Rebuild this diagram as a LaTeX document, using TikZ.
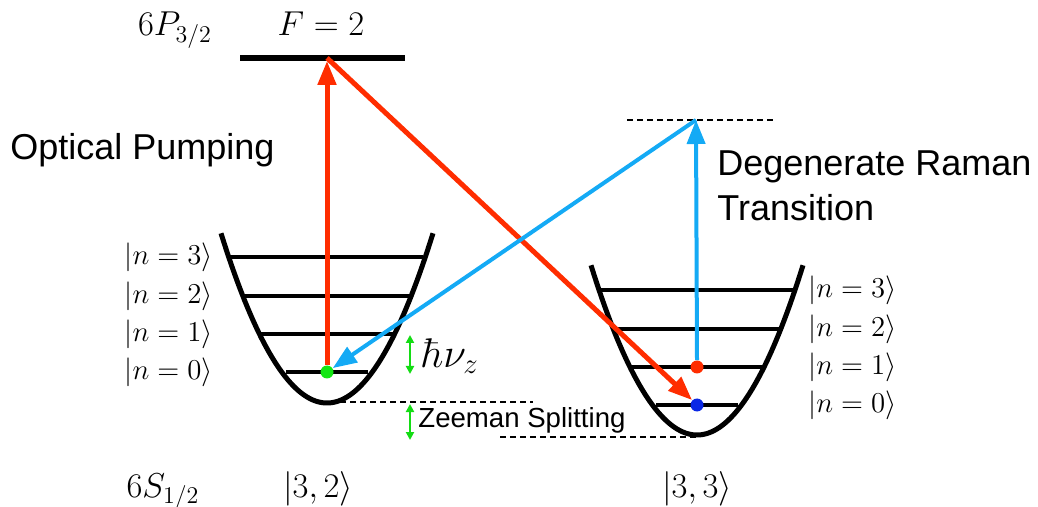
\documentclass[tikz,border=0pt]{standalone}
\usepackage{fontspec}
\newfontfamily\sansf{Liberation Sans}
\usetikzlibrary{arrows.meta}
\definecolor{laserred}{RGB}{255,45,0}
\definecolor{laserblue}{RGB}{20,170,245}
\definecolor{dotgreen}{RGB}{20,230,20}
\definecolor{dotblue}{RGB}{10,40,230}
\definecolor{arrgreen}{RGB}{20,220,20}
\begin{document}
\begin{tikzpicture}[x=0.5pt,y=-0.5pt,
  level/.style={line width=2pt},
  well/.style={line width=2.5pt},
  redbeam/.style={laserred,line width=2.5pt,-{Triangle[length=12pt,width=9pt]}},
  bluebeam/.style={laserblue,line width=2pt,-{Triangle[length=12pt,width=9pt]}},
  dot/.style={circle,inner sep=0pt,minimum size=6.5pt},
  gap/.style={arrgreen,line width=1pt,{Triangle[length=4pt,width=4pt]}-{Triangle[length=4pt,width=4pt]}},
  virt/.style={line width=1pt,dash pattern=on 3pt off 2pt},
  mathlab/.style={font=\fontsize{13.5}{16}\selectfont,inner sep=0pt},
  biglab/.style={font=\fontsize{17}{20}\selectfont,inner sep=0pt},
  hnulab/.style={font=\fontsize{20}{24}\selectfont,inner sep=0pt},
  sanslab/.style={font=\sansf\fontsize{18}{22.5}\selectfont,inner sep=0pt,align=left},
  smallsans/.style={font=\sansf\fontsize{13.8}{16}\selectfont,inner sep=0pt}]
\useasboundingbox (0,0) rectangle (1038,507);

% excited level
\draw[line width=3pt] (240,58) -- (405,58);
\coordinate (top) at (327,58);
\node[biglab,anchor=base] (p32) at (175,36) {$6P_{3/2}$};
\node[biglab,anchor=base] (F2) at (321,36) {$F=2$};

% virtual level
\draw[virt] (627,120) -- (775,120);
\coordinate (virtual) at (696,120);

% left well
\draw[well] plot[domain=-106:106,samples=80] ({327+\x},{403-0.0151*\x*\x});
\draw[level] (231,257) -- (423,257);
\draw[level] (245,296) -- (409,296);
\draw[level] (261,334) -- (393,334);
\draw[level] (286,372) -- (368,372);
\node[mathlab,anchor=east] (l3) at (213,257) {$|n=3\rangle$};
\node[mathlab,anchor=east] (l2) at (213,296) {$|n=2\rangle$};
\node[mathlab,anchor=east] (l1) at (213,334) {$|n=1\rangle$};
\node[mathlab,anchor=east] (l0) at (213,372) {$|n=0\rangle$};

% right well
\draw[well] plot[domain=-106:106,samples=80] ({697+\x},{435-0.0151*\x*\x});
\draw[level] (601,290) -- (793,290);
\draw[level] (615,329) -- (779,329);
\draw[level] (631,367) -- (763,367);
\draw[level] (656,405) -- (738,405);
\node[mathlab,anchor=west] (r3) at (808,290) {$|n=3\rangle$};
\node[mathlab,anchor=west] (r2) at (808,329) {$|n=2\rangle$};
\node[mathlab,anchor=west] (r1) at (808,367) {$|n=1\rangle$};
\node[mathlab,anchor=west] (r0) at (808,405) {$|n=0\rangle$};

% dots
\node[dot,fill=dotgreen] (g) at (327,372) {};
\node[dot,fill=laserred] (rd) at (697,367) {};
\node[dot,fill=dotblue] (bd) at (697,405) {};

% beams
\draw[redbeam] (g.north) -- (top |- 0,61);
\draw[redbeam] (top) -- (bd.north west);
\draw[bluebeam] (rd.north) -- (virtual);
\draw[bluebeam] (virtual) -- (g);

% splittings
\draw[virt] (340,402) -- (533,402);
\draw[virt] (500,437) -- (697,437);
\coordinate (hv1) at (410,335);
\coordinate (hv2) at (410,374);
\draw[gap] (hv1) -- (hv2);
\node[hnulab,anchor=west] (hnu) at (422,356) {$\hbar\nu_z$};
\coordinate (z1) at (410,404);
\coordinate (z2) at (410,440);
\draw[gap] (z1) -- (z2);
\node[smallsans,anchor=base west] (zee) at (418,428) {Zeeman Splitting};

% labels
\node[sanslab,anchor=base west] (op) at (10,160) {Optical Pumping};
\node[sanslab,anchor=base west] (drt) at (717,221) {Degenerate Raman\\Transition};

\node[biglab,anchor=base] (s12) at (163,497) {$6S_{1/2}$};
\node[biglab,anchor=base] (k32) at (318,497) {$|3,2\rangle$};
\node[biglab,anchor=base] (k33) at (697,497) {$|3,3\rangle$};
\end{tikzpicture}
\end{document}
